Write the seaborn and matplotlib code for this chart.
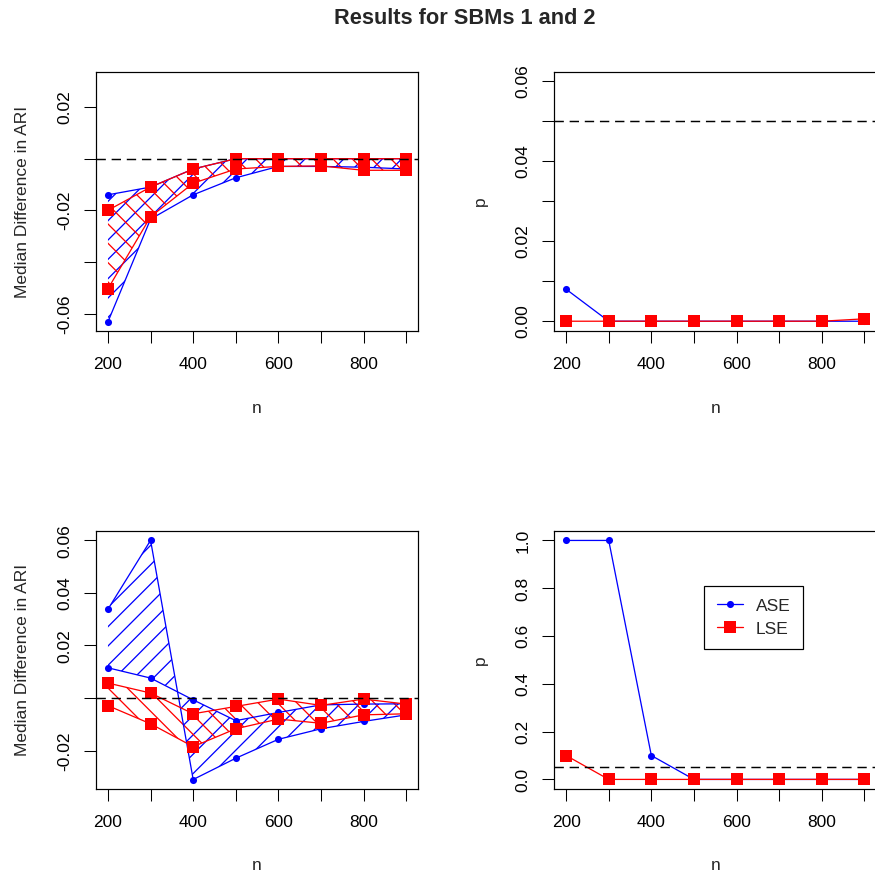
import matplotlib
matplotlib.use("Agg")
import matplotlib.pyplot as plt
import seaborn as sns
from matplotlib.lines import Line2D

# ---------------- data ----------------
n_values = [200, 300, 400, 500, 600, 700, 800, 900]
x_ticks = [200, 300, 400, 500, 600, 700, 800, 900]
x_tick_labels = ["200", "", "400", "", "600", "", "800", ""]

# SBM 1 (top row): median difference in ARI, two curves per method
ase_ari_a_1 = [-0.0140, -0.0110, -0.0040, 0.0000, 0.0000, 0.0000, 0.0000, 0.0000]
ase_ari_b_1 = [-0.0632, -0.0234, -0.0140, -0.0074, -0.0030, -0.0030, -0.0033, -0.0040]
lse_ari_a_1 = [-0.0200, -0.0110, -0.0040, 0.0000, 0.0000, 0.0000, 0.0000, 0.0000]
lse_ari_b_1 = [-0.0504, -0.0225, -0.0095, -0.0040, -0.0030, -0.0028, -0.0045, -0.0045]
# SBM 1 p-values
ase_p_1 = [0.008, 0.0, 0.0, 0.0, 0.0, 0.0, 0.0, 0.0]
lse_p_1 = [0.0, 0.0, 0.0, 0.0, 0.0, 0.0, 0.0, 0.0006]

# SBM 2 (bottom row)
ase_ari_a_2 = [0.0338, 0.0600, -0.0310, -0.0229, -0.0157, -0.0117, -0.0089, -0.0064]
ase_ari_b_2 = [0.0115, 0.0076, -0.0007, -0.0086, -0.0055, -0.0026, -0.0023, -0.0022]
lse_ari_a_2 = [0.0057, 0.0019, -0.0060, -0.0032, -0.0004, -0.0028, -0.0004, -0.0023]
lse_ari_b_2 = [-0.0029, -0.0098, -0.0185, -0.0117, -0.0080, -0.0096, -0.0064, -0.0060]
# SBM 2 p-values
ase_p_2 = [1.0, 1.0, 0.1, 0.0, 0.0, 0.0, 0.0, 0.0]
lse_p_2 = [0.1, 0.0, 0.0, 0.0, 0.0, 0.0, 0.0, 0.0]

# tick labels
ari_ticks_1 = [-0.06, -0.04, -0.02, 0.0, 0.02]
ari_tick_labels_1 = ["-0.06", "", "-0.02", "", "0.02"]
p_ticks_1 = [0.0, 0.01, 0.02, 0.03, 0.04, 0.05, 0.06]
p_tick_labels_1 = ["0.00", "", "0.02", "", "0.04", "", "0.06"]
ari_ticks_2 = [-0.02, 0.0, 0.02, 0.04, 0.06]
ari_tick_labels_2 = ["-0.02", "", "0.02", "0.04", "0.06"]
p_ticks_2 = [0.0, 0.2, 0.4, 0.6, 0.8, 1.0]
p_tick_labels_2 = ["0.0", "0.2", "0.4", "0.6", "0.8", "1.0"]

ari_ref = 0.0
p_ref = 0.05

title = "Results for SBMs 1 and 2"
methods = ["ASE", "LSE"]

# ---------------- style ----------------
sns.set_style("ticks")
plt.rcParams["font.family"] = ["Liberation Sans", "DejaVu Sans"]
plt.rcParams["hatch.linewidth"] = 0.8
plt.rcParams["lines.scale_dashes"] = False

BLUE = "#0000FF"
RED = "#FF0000"
DPI = 116
W, H = 875, 878
FS = 10.8

fig = plt.figure(figsize=(875.3 / DPI, 878.3 / DPI), dpi=DPI)


def px_axes(l, t, r, b):
    return fig.add_axes([l / W, 1 - b / H, (r - l) / W, (b - t) / H])


def style_axes(ax, yticks, ylabels, ylim, ylabel):
    ax.set_xlim(172, 928)
    ax.set_ylim(*ylim)
    ax.set_xticks(x_ticks)
    ax.set_xticklabels(x_tick_labels, fontsize=FS)
    ax.set_yticks(yticks)
    ax.set_yticklabels(ylabels, fontsize=FS, rotation=90, va="center")
    ax.tick_params(axis="both", length=7.2, width=0.65, color="black",
                   labelcolor="black")
    ax.tick_params(axis="x", pad=8.6)
    ax.tick_params(axis="y", pad=7.6)
    for s in ax.spines.values():
        s.set_visible(True)
        s.set_color("black")
        s.set_linewidth(0.75)
    ax.set_xlabel("n", fontsize=FS)
    ax.xaxis.label.set_va("center")
    ax.xaxis.set_label_coords(0.5, -0.297)
    ax.set_ylabel(ylabel, fontsize=FS)
    ax.yaxis.set_label_coords(-0.205, 0.5)
    ax.set_facecolor("white")


def ref_line(ax, y):
    ax.axhline(y, color="black", linewidth=0.9, linestyle=(0, (5.8, 3.6)),
               zorder=5)


def band(ax, a, b, color, hatch):
    with plt.rc_context({"hatch.color": color}):
        ax.fill_between(n_values, a, b, facecolor="none", edgecolor=color,
                        linewidth=0, hatch=hatch, zorder=1)


def series(ax, y, color, marker, ms, label=None):
    sns.lineplot(x=n_values, y=y, ax=ax, color=color, marker=marker,
                 markersize=ms, markeredgewidth=0, linewidth=0.8,
                 label=label, legend=False, zorder=3)


CIRC = 4.4
SQ = 7.0

# top-left
ax1 = px_axes(96, 72, 418, 331)
band(ax1, ase_ari_a_1, ase_ari_b_1, BLUE, "//")
band(ax1, lse_ari_a_1, lse_ari_b_1, RED, "\\\\")
series(ax1, ase_ari_a_1, BLUE, "o", CIRC)
series(ax1, ase_ari_b_1, BLUE, "o", CIRC)
series(ax1, lse_ari_a_1, RED, "s", SQ)
series(ax1, lse_ari_b_1, RED, "s", SQ)
ref_line(ax1, ari_ref)
style_axes(ax1, ari_ticks_1, ari_tick_labels_1, (-0.0667, 0.0337),
           "Median Difference in ARI")

# top-right
ax2 = px_axes(554, 72, 876, 331)
series(ax2, ase_p_1, BLUE, "o", CIRC)
series(ax2, lse_p_1, RED, "s", SQ)
ref_line(ax2, p_ref)
style_axes(ax2, p_ticks_1, p_tick_labels_1, (-0.0024, 0.0624), "p")

# bottom-left
ax3 = px_axes(96, 531, 418, 789)
band(ax3, ase_ari_a_2, ase_ari_b_2, BLUE, "//")
band(ax3, lse_ari_a_2, lse_ari_b_2, RED, "\\\\")
series(ax3, ase_ari_a_2, BLUE, "o", CIRC)
series(ax3, ase_ari_b_2, BLUE, "o", CIRC)
series(ax3, lse_ari_a_2, RED, "s", SQ)
series(ax3, lse_ari_b_2, RED, "s", SQ)
ref_line(ax3, ari_ref)
style_axes(ax3, ari_ticks_2, ari_tick_labels_2, (-0.0346, 0.0636),
           "Median Difference in ARI")

# bottom-right
ax4 = px_axes(554, 531, 876, 789)
series(ax4, ase_p_2, BLUE, "o", CIRC)
series(ax4, lse_p_2, RED, "s", SQ)
ref_line(ax4, p_ref)
style_axes(ax4, p_ticks_2, p_tick_labels_2, (-0.04, 1.04), "p")

handles = [
    Line2D([], [], color=BLUE, marker="o", markersize=CIRC, markeredgewidth=0,
           linewidth=0.8),
    Line2D([], [], color=RED, marker="s", markersize=SQ, markeredgewidth=0,
           linewidth=0.8),
]
leg = ax4.legend(handles, methods, loc="upper left",
                 bbox_to_anchor=(704 / W, 1 - 585.7 / H),
                 bbox_transform=fig.transFigure, borderaxespad=0,
                 fontsize=FS, frameon=True, fancybox=False, shadow=False,
                 framealpha=1, edgecolor="black", borderpad=0.72,
                 handlelength=1.5, handletextpad=0.75, labelspacing=0.45,
                 numpoints=1)
leg.get_frame().set_linewidth(0.75)

fig.suptitle(title, x=465 / W, y=1 - 18.8 / H, va="center", ha="center",
             fontsize=13.5, fontweight="bold")

fig.savefig("out.png", dpi=DPI, facecolor="white")
